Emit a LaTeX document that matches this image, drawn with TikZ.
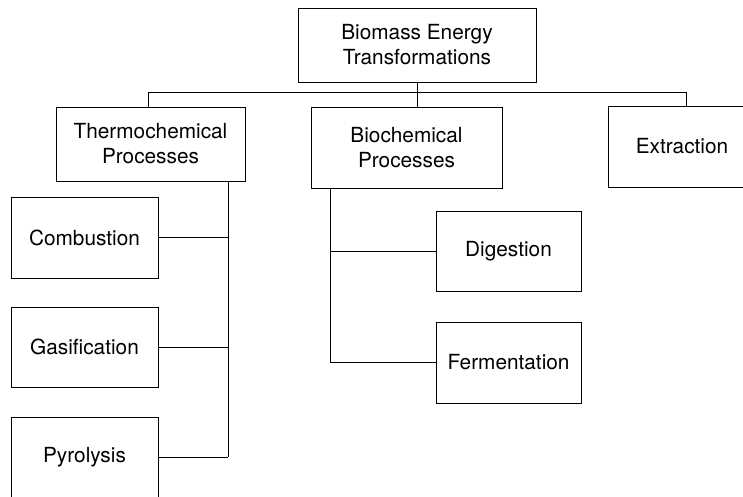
\documentclass[tikz,border=0pt]{standalone}
\usepackage{fontspec}
\setmainfont{TeX Gyre Heros}
\begin{document}
\begin{tikzpicture}[x=1pt, y=-1pt, line width=1pt,
  box/.style={draw, inner sep=0pt, align=center, font=\fontsize{20.8}{25}\selectfont}]
\clip (0,0) rectangle (743,496);
\node[box, minimum width=238pt, minimum height=74pt] (top) at (417,45) {Biomass Energy\\Transformations};
\node[box, minimum width=189pt, minimum height=74pt] (thermo) at (150.5,144) {Thermochemical\\Processes};
\node[box, minimum width=191pt, minimum height=81pt] (bio) at (406.5,147.5) {Biochemical\\Processes};
\node[box, minimum width=148pt, minimum height=81pt] (extr) at (682,146.5) {Extraction};
\node[box, minimum width=147pt, minimum height=81pt] (comb) at (84.5,237.5) {Combustion};
\node[box, minimum width=147pt, minimum height=80pt] (gasi) at (84.5,347) {Gasification};
\node[box, minimum width=147pt, minimum height=80pt] (pyro) at (84.5,457) {Pyrolysis};
\node[box, minimum width=145pt, minimum height=80pt] (dig) at (508.5,251) {Digestion};
\node[box, minimum width=145pt, minimum height=81pt] (ferm) at (508.5,362.5) {Fermentation};
\coordinate (busL) at (148,92);
\coordinate (busR) at (686,92);
\coordinate (tx) at (228,0);
\coordinate (bx) at (330,0);
\draw (busL) -- (busR);
\draw (top.south) -- (top.south |- busL);
\draw (busL) -- (busL |- thermo.north);
\draw (top.south |- busL) -- (top.south |- bio.north);
\draw (busR) -- (busR |- extr.north);
\draw (tx |- thermo.south) -- (tx |- pyro.east);
\draw (comb.east) -- (comb.east -| tx);
\draw (gasi.east) -- (gasi.east -| tx);
\draw (pyro.east) -- (pyro.east -| tx);
\draw (bx |- bio.south) -- (bx |- ferm.west);
\draw (dig.west) -- (dig.west -| bx);
\draw (ferm.west) -- (ferm.west -| bx);
\end{tikzpicture}
\end{document}
